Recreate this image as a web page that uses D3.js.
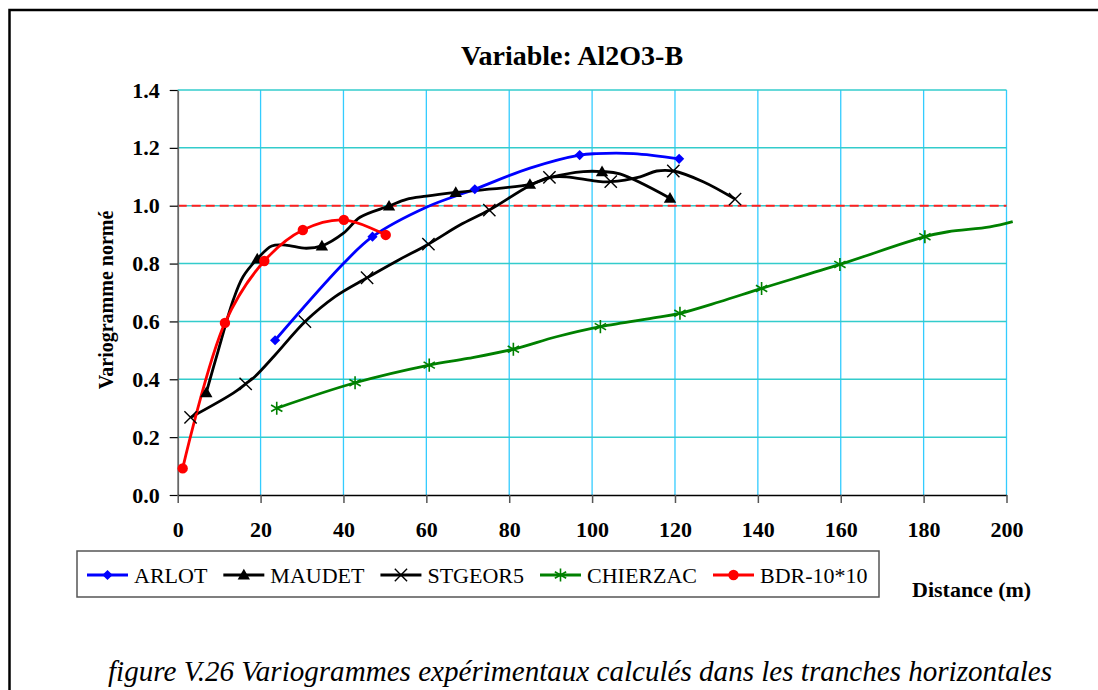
<!DOCTYPE html>
<html><head><meta charset="utf-8">
<script src="https://cdn.jsdelivr.net/npm/d3@7"></script>
<style>
body{margin:0;background:#fff;}
svg{display:block;}
text{font-family:"Liberation Serif",serif;}
</style>
</head><body>
<svg id="c" width="1098" height="690"></svg>
<script>
// ---- data ----
const chartTitle = "Variable: Al2O3-B";
const yLabel = "Variogramme normé";
const xLabel = "Distance (m)";
const caption = "figure V.26  Variogrammes expérimentaux calculés dans les tranches horizontales";
const xTicks = [0,20,40,60,80,100,120,140,160,180,200];
const yTicks = [0,0.2,0.4,0.6,0.8,1.0,1.2,1.4];
const sill = 1.0;
const seriesNames = ["ARLOT","MAUDET","STGEOR5","CHIERZAC","BDR-10*10"];
// [distance, normalised variogram, marker shown (1) or not (0)]
const arlot = [[23.5,0.535,1],[40,0.80,0],[47,0.893,1],[60,0.995,0],[71.7,1.057,1],[85,1.13,0],[97,1.175,1],[101,1.18,0],[110,1.18,0],[121,1.162,1]];
const maudet = [[6.9,0.354,1],[9.8,0.50,0],[13.4,0.674,0],[15.8,0.755,0],[19.2,0.816,1],[22.7,0.861,0],[26,0.864,0],[31,0.853,0],[34.8,0.861,1],[40,0.905,0],[44,0.96,0],[51,0.999,1],[55.2,1.022,0],[60,1.033,0],[67.1,1.046,1],[85,1.074,1],[90,1.098,0],[97.9,1.118,0],[102.4,1.118,1],[106.7,1.11,0],[118.8,1.026,1]];
const stgeor5 = [[3.1,0.268,1],[13.4,0.352,0],[16.4,0.384,1],[18.6,0.409,0],[23.5,0.484,0],[30.7,0.599,1],[38,0.686,0],[45.7,0.751,1],[53,0.81,0],[60.5,0.867,1],[68.1,0.933,0],[75.2,0.985,1],[85,1.07,0],[89.7,1.098,1],[93.8,1.10,0],[101,1.085,0],[104.5,1.083,1],[111.6,1.10,0],[115.6,1.12,0],[119.6,1.12,1],[126.8,1.083,0],[134.5,1.023,1]];
const chierzac = [[23.9,0.30,1],[42.8,0.388,1],[60.7,0.449,1],[70,0.472,0],[81,0.504,1],[91.4,0.547,0],[102,0.582,1],[115.6,0.614,0],[121.2,0.628,1],[130.8,0.668,0],[140.9,0.714,1],[159.8,0.797,1],[180.3,0.893,1],[185.9,0.910,0],[196,0.927,0],[201.5,0.945,0]];
const bdr = [[1.2,0.092,1],[11.4,0.595,1],[20.9,0.809,1],[30.2,0.916,1],[40.1,0.951,1],[50.2,0.899,1]];
const seriesData = [arlot, maudet, stgeor5, chierzac, bdr];
const seriesColors = ["#0000FF","#000000","#000000","#008000","#FF0000"];

// ---- drawing ----
const FONT = '"Liberation Serif", serif';
const svg = d3.select("#c");
const x = d3.scaleLinear().domain([0,200]).range([177.7,1006.5]);
const y = d3.scaleLinear().domain([0,1.4]).range([495,90]);

// outer frame
svg.append("rect").attr("x",9.5).attr("y",10).attr("width",1200).attr("height",1000)
  .attr("fill","none").attr("stroke","#000").attr("stroke-width",2.5);

// gridlines
svg.append("g").selectAll("line").data(xTicks.filter(d=>d>0)).join("line")
  .attr("x1",d=>x(d)).attr("x2",d=>x(d)).attr("y1",y(0)).attr("y2",y(1.4))
  .attr("stroke","#33CCFF").attr("stroke-width",1.3);
svg.append("g").selectAll("line").data(yTicks.filter(d=>d>0)).join("line")
  .attr("x1",x(0)).attr("x2",x(200)).attr("y1",d=>y(d)).attr("y2",d=>y(d))
  .attr("stroke","#33CCCC").attr("stroke-width",1.5);

// sill line
svg.append("line").attr("x1",x(0)).attr("x2",x(200)).attr("y1",y(sill)).attr("y2",y(sill))
  .attr("stroke","#FF2020").attr("stroke-width",2).attr("stroke-dasharray","9,5");

// axes
const yAxis = svg.append("g").attr("transform",`translate(${x(0)},0)`)
  .call(d3.axisLeft(y).tickValues(yTicks).tickFormat(d3.format(".1f")).tickSize(8).tickSizeOuter(0).tickPadding(10));
const xAxis = svg.append("g").attr("transform",`translate(0,${y(0)})`)
  .call(d3.axisBottom(x).tickValues(xTicks).tickFormat(d3.format("d")).tickSize(8).tickSizeOuter(0).tickPadding(18));
[yAxis,xAxis].forEach(g=>{
  g.attr("font-family",FONT).attr("font-size",22);
  g.selectAll("text").attr("font-family",FONT).style("font-family",FONT)
    .style("font-size","22px").style("font-weight","bold").attr("fill","#000");
});
yAxis.select(".domain").attr("stroke","#666").attr("stroke-width",1.8);
yAxis.selectAll(".tick line").attr("stroke","#000").attr("stroke-width",1.2);
xAxis.select(".domain").attr("stroke","#000").attr("stroke-width",1.5);
xAxis.selectAll(".tick line").attr("stroke","#555").attr("stroke-width",1.5);

// lines
const line = d3.line().x(d=>x(d[0])).y(d=>y(d[1])).curve(d3.curveCatmullRom.alpha(0.5));
const gLines = svg.append("g");
seriesData.forEach((s,i)=>{
  gLines.append("path").datum(s).attr("d",line).attr("fill","none")
    .attr("stroke",seriesColors[i]).attr("stroke-width",2.8).attr("stroke-linejoin","round");
});

// markers
function drawMarker(g, i, cx, cy){
  const c = seriesColors[i];
  if(i===0){
    g.append("path").attr("d",d3.symbol(d3.symbolSquare,52)())
      .attr("transform",`translate(${cx},${cy}) rotate(45)`).attr("fill",c);
  } else if(i===1){
    g.append("path").attr("d",d3.symbol(d3.symbolTriangle,66)())
      .attr("transform",`translate(${cx},${cy+1})`).attr("fill",c);
  } else if(i===2){
    g.append("path").attr("d",d3.symbol(d3.symbolX,100)())
      .attr("transform",`translate(${cx},${cy})`).attr("fill","none").attr("stroke",c).attr("stroke-width",1.4);
  } else if(i===3){
    g.append("path").attr("d",d3.symbol(d3.symbolAsterisk,120)())
      .attr("transform",`translate(${cx},${cy})`).attr("fill","none").attr("stroke",c).attr("stroke-width",1.6);
  } else {
    g.append("circle").attr("cx",cx).attr("cy",cy).attr("r",5.2).attr("fill",c);
  }
}
const gMarks = svg.append("g");
seriesData.forEach((s,i)=>{
  s.filter(d=>d[2]===1).forEach(d=>drawMarker(gMarks,i,x(d[0]),y(d[1])));
});

// title & axis labels
svg.append("text").attr("x",572).attr("y",65).attr("text-anchor","middle").attr("font-family",FONT)
  .attr("font-weight","bold").attr("font-size",28).text(chartTitle);
svg.append("text").attr("transform","translate(113,300) rotate(-90)").attr("text-anchor","middle").attr("font-family",FONT)
  .attr("font-weight","bold").attr("font-size",20).text(yLabel);
svg.append("text").attr("x",912).attr("y",597).attr("font-family",FONT)
  .attr("font-weight","bold").attr("font-size",22).text(xLabel);

// legend
const leg = svg.append("g");
leg.append("rect").attr("x",77).attr("y",551).attr("width",802).attr("height",46)
  .attr("fill","#fff").attr("stroke","#555").attr("stroke-width",1.5);
let lx = 87;
const ly = 575;
seriesNames.forEach((n,i)=>{
  leg.append("line").attr("x1",lx).attr("x2",lx+41).attr("y1",ly).attr("y2",ly)
    .attr("stroke",seriesColors[i]).attr("stroke-width",3);
  drawMarker(leg,i,lx+20.5,ly);
  const t = leg.append("text").attr("x",lx+47).attr("y",ly+8).attr("font-family",FONT).attr("font-size",22).text(n);
  lx = lx + 47 + t.node().getComputedTextLength() + 16;
});

// caption
svg.append("text").attr("x",108).attr("y",681).attr("font-family",FONT).attr("font-style","italic").attr("font-size",30)
  .attr("textLength",944).attr("lengthAdjust","spacingAndGlyphs").text(caption);
</script>
</body></html>
